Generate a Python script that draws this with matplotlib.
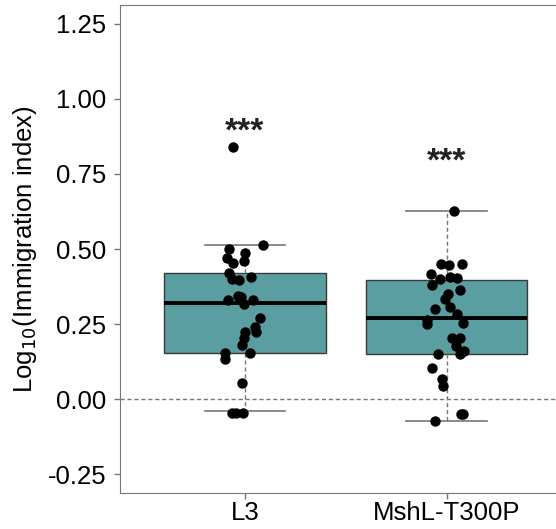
import numpy as np
import matplotlib
matplotlib.use('Agg')
import matplotlib.pyplot as plt

plt.rcParams['font.family'] = ['Liberation Sans', 'DejaVu Sans']

# groups and box statistics
groups = ['L3', 'MshL-T300P']
whislo = [-0.04, -0.073]
q1 = [0.153, 0.15]
med = [0.32, 0.27]
q3 = [0.42, 0.397]
whishi = [0.513, 0.627]
stars = ['***', '***']
star_y = [0.89, 0.79]

# individual points
l3_vals = [0.839, 0.513, 0.499, 0.486, 0.469, 0.454, 0.461, 0.419, 0.40, 0.397,
           0.408, 0.33, 0.344, 0.339, 0.331, 0.317, 0.269, 0.241, 0.224, 0.224,
           0.202, 0.18, 0.152, 0.154, 0.132, 0.054, -0.046, -0.046, -0.046]
l3_jit = [-0.06, 0.09, -0.08, 0.0, -0.09, -0.06, -0.003, -0.08, -0.065, -0.03,
          0.03, -0.085, -0.033, -0.021, 0.038, -0.005, 0.074, 0.05, 0.054, 0.0,
          -0.005, -0.013, 0.025, -0.099, -0.099, -0.013, -0.066, -0.045, -0.011]

msh_vals = [0.628, 0.449, 0.446, 0.449, 0.416, 0.399, 0.408, 0.404, 0.38, 0.363,
            0.35, 0.334, 0.308, 0.30, 0.283, 0.263, 0.249, 0.252, 0.204, 0.202,
            0.177, 0.16, 0.15, 0.15, 0.104, 0.066, 0.043, -0.05, -0.05, -0.073]
msh_jit = [0.036, -0.026, 0.01, 0.078, -0.079, -0.031, 0.018, 0.05, -0.072, 0.068,
           0.006, -0.005, 0.018, -0.056, 0.05, -0.097, -0.097, 0.081, 0.028, 0.068,
           0.045, 0.089, 0.068, -0.043, -0.071, -0.021, -0.015, 0.072, 0.08, -0.059]

fig = plt.figure(figsize=(5.56, 5.29), dpi=100)
ax = fig.add_axes([0.216, 0.068, 0.79, 0.9225])

stats = []
for i, g in enumerate(groups):
    stats.append(dict(label=g, whislo=whislo[i], q1=q1[i], med=med[i],
                      q3=q3[i], whishi=whishi[i], fliers=[]))

ax.bxp(stats, positions=[0, 1], widths=0.8, patch_artist=True,
       showfliers=False,
       boxprops=dict(facecolor='#5b9ea1', edgecolor='#3a3a3a', linewidth=1),
       medianprops=dict(color='black', linewidth=2.8),
       whiskerprops=dict(color='#777777', linestyle=(0, (3, 2)), linewidth=1),
       capprops=dict(color='#777777', linewidth=1.2),
       capwidths=0.4, zorder=2)

ax.axhline(0, color='#777777', linestyle=(0, (3, 2)), linewidth=1, zorder=1)

ax.scatter(np.array(l3_jit) + 0, l3_vals, s=42, color='black', zorder=4)
ax.scatter(np.array(msh_jit) + 1, msh_vals, s=42, color='black', zorder=4)

for i, s in enumerate(stars):
    ax.text(i, star_y[i], s, ha='center', va='center', fontsize=24,
            fontweight='bold', color='#222222')

ax.set_xlim(-0.62, 1.56)
ax.set_ylim(-0.313, 1.313)
ax.set_yticks([-0.25, 0, 0.25, 0.5, 0.75, 1.0, 1.25])
ax.set_yticklabels(['-0.25', '0.00', '0.25', '0.50', '0.75', '1.00', '1.25'])
ax.set_xticks([0, 1])
ax.set_xticklabels(groups)
ax.tick_params(labelsize=18.5, color='#777777', length=4, width=1, pad=6)
ax.tick_params(axis='x', pad=2)
ax.set_ylabel('Log$_{10}$(Immigration index)', fontsize=18.5, labelpad=6)

for sp in ['left', 'bottom', 'top']:
    ax.spines[sp].set_color('#777777')
ax.spines['right'].set_visible(False)

plt.savefig('out.png', dpi=100)
